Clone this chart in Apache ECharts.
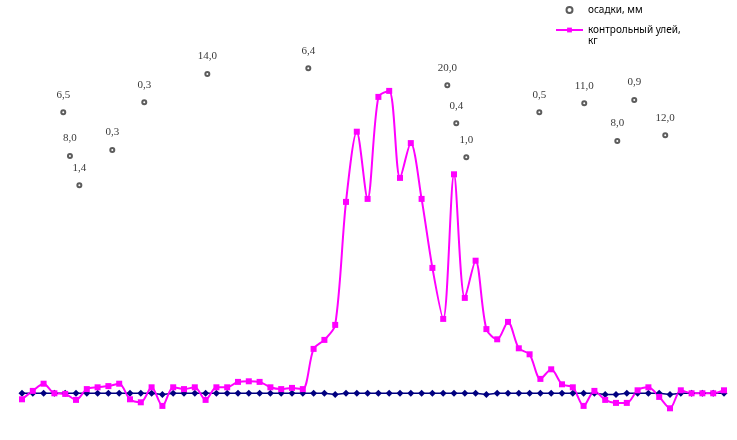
<!DOCTYPE html>
<html>
<head>
<meta charset="utf-8">
<script src="https://cdn.jsdelivr.net/npm/echarts@6/dist/echarts.min.js"></script>
<style>
  html, body { margin: 0; padding: 0; background: #fff; }
  #chart { width: 737px; height: 440px; }
</style>
</head>
<body>
<div id="chart"></div>
<script>
// daily weight change of the control hive, kg (one point per day)
const hiveKg = [
  -0.10, 0.04, 0.16, 0.00, -0.01, -0.11, 0.07, 0.10, 0.12, 0.16,
  -0.10, -0.15, 0.10, -0.21, 0.10, 0.07, 0.10, -0.11, 0.10, 0.10,
  0.19, 0.20, 0.19, 0.10, 0.07, 0.09, 0.07, 0.74, 0.89, 1.14,
  3.19, 4.36, 3.24, 4.94, 5.04, 3.59, 4.17, 3.24, 2.09, 1.24,
  3.65, 1.59, 2.21, 1.07, 0.90, 1.19, 0.75, 0.65, 0.24, 0.40,
  0.15, 0.10, -0.21, 0.04, -0.11, -0.16, -0.16, 0.05, 0.10, -0.06,
  -0.25, 0.05, 0.00, 0.00, 0.00, 0.05
]

// second series, stays around zero
const baseKg = [
  0, 0, 0, 0, 0, 0, 0, 0, 0, 0,
  0, 0, 0, -0.02, 0, 0, 0, 0, 0, 0,
  0, 0, 0, 0, 0, 0, 0, 0, 0, -0.02,
  0, 0, 0, 0, 0, 0, 0, 0, 0, 0,
  0, 0, 0, -0.02, 0, 0, 0, 0, 0, 0,
  0, 0, 0, 0, -0.02, -0.02, 0, 0, 0, 0,
  -0.02, 0, 0, 0, 0, 0
]

// precipitation points: day position, height on the right axis, label
const rainX = [3.82, 4.44, 5.31, 8.36, 11.32, 17.16, 26.51, 39.38, 40.21, 41.14, 47.9, 52.06, 55.12, 56.69, 59.56]
const rainY = [20.73, 17.82, 15.87, 18.22, 21.4, 23.29, 23.67, 22.53, 20.0, 17.73, 20.73, 21.33, 18.82, 21.55, 19.2]
const rainLabels = ['6,5', '8,0', '1,4', '0,3', '0,3', '14,0', '6,4', '20,0', '0,4', '1,0', '0,5', '11,0', '8,0', '0,9', '12,0']

const chart = echarts.init(document.getElementById('chart'))

const options = {
  animation: false,
  grid: { left: 22, right: 13, top: 33.3, bottom: 16.7 },
  xAxis: { type: 'value', min: 0, max: 65, show: false },
  yAxis: [
    { type: 'value', min: -0.5, max: 6, show: false },
    { type: 'value', min: 0, max: 26, show: false }
  ],
  legend: {
    orient: 'vertical',
    left: 550,
    top: 0,
    itemWidth: 27,
    itemHeight: 6,
    itemGap: 10,
    data: ['осадки, мм', 'контрольный улей, кг'],
    formatter: name => name === 'контрольный улей, кг' ? 'контрольный улей,' : name,
    textStyle: { fontFamily: 'Noto Sans', fontSize: 10, color: '#000' }
  },
  graphic: [
    {
      type: 'text',
      left: 588,
      top: 36,
      style: { text: 'кг', font: '10px "Noto Sans"', fill: '#000' }
    }
  ],
  series: [
    {
      name: 'осадки, мм',
      type: 'scatter',
      yAxisIndex: 1,
      symbol: 'emptyCircle',
      symbolSize: 4,
      itemStyle: { color: '#333', borderColor: '#333', borderWidth: 1 },
      data: rainX.map((x, i) => [x, rainY[i]]),
      label: {
        show: true,
        position: 'top',
        distance: 9,
        formatter: p => rainLabels[p.dataIndex],
        fontFamily: 'Liberation Serif',
        fontSize: 11,
        color: '#000'
      }
    },
    {
      name: 'база',
      type: 'line',
      data: baseKg.map((v, i) => [i, v]),
      symbol: 'diamond',
      symbolSize: 7,
      lineStyle: { color: '#000080', width: 1.5 },
      itemStyle: { color: '#000080' }
    },
    {
      name: 'контрольный улей, кг',
      type: 'line',
      data: hiveKg.map((v, i) => [i, v]),
      smooth: 0.3,
      symbol: 'rect',
      symbolSize: 6,
      lineStyle: { color: '#FF00FF', width: 2 },
      itemStyle: { color: '#FF00FF' }
    }
  ]
}
chart.setOption(options)
</script>
</body>
</html>
